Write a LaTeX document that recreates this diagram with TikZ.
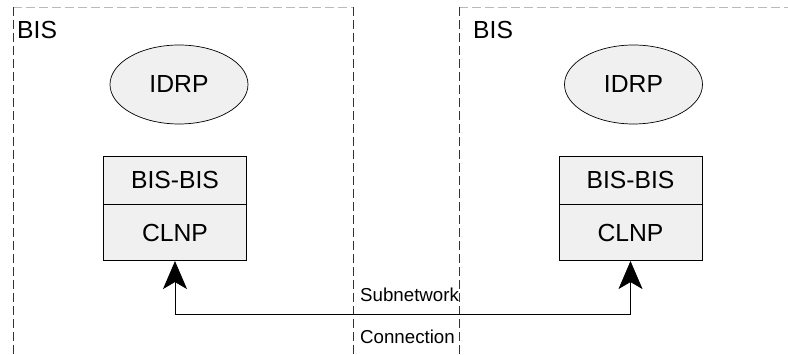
\documentclass[tikz,border=0pt]{standalone}
\usepackage{fontspec}
\setmainfont{Liberation Sans}
\usetikzlibrary{arrows.meta,positioning,shapes.geometric}

\tikzset{
  proto/.style={ellipse,draw,fill=gray!12,line width=0.7pt,minimum width=138pt,minimum height=79pt,inner sep=0pt,font=\fontsize{24.7}{28}\selectfont},
  layer/.style={rectangle,draw,fill=gray!12,line width=0.7pt,minimum width=143pt,inner sep=0pt,font=\fontsize{24.7}{28}\selectfont},
  system/.style={dash pattern=on 9pt off 4pt,line width=0.7pt},
  bigtext/.style={inner sep=0pt,anchor=base west,font=\fontsize{24.7}{28}\selectfont},
  smalltext/.style={inner sep=0pt,anchor=base west,font=\fontsize{18.7}{22}\selectfont}
}

\begin{document}
\begin{tikzpicture}[x=1pt,y=-1pt,>={Stealth[length=28pt,width=24pt,inset=7pt]},line cap=butt]
\useasboundingbox (0,0) rectangle (788,355);
% the two systems
\draw[system,gray!55] (13,7) -- (353,7);
\draw[system,black!80] (13,7) -- (13,355);
\draw[system,black!80] (353,7) -- (353,355);
\draw[system,gray!55] (459,7) -- (788,7);
\draw[system,black!80] (459,7) -- (459,355);
\node[bigtext] (bisL) at (17,39) {BIS};
\node[bigtext] (bisR) at (473,39) {BIS};
% left stack
\node[proto] (idrpL) at (179,84.5) {IDRP};
\node[layer,minimum height=48pt] (bbL) at (175,180) {BIS-BIS};
\node[layer,minimum height=56pt,below=0pt of bbL] (clnpL) {CLNP};
% right stack
\node[proto] (idrpR) at (633.5,84.5) {IDRP};
\node[layer,minimum height=48pt] (bbR) at (630.5,180) {BIS-BIS};
\node[layer,minimum height=56pt,below=0pt of bbR] (clnpR) {CLNP};
% subnetwork connection
\coordinate (bend) at (clnpL.south |- 0,314);
\draw[<->,line width=0.7pt] (clnpL.south) -- (bend) -| (clnpR.south);
\node[smalltext] (subnet) at (360,302) {Subnetwork};
\node[smalltext] (conn) at (360,344) {Connection};
\end{tikzpicture}
\end{document}
